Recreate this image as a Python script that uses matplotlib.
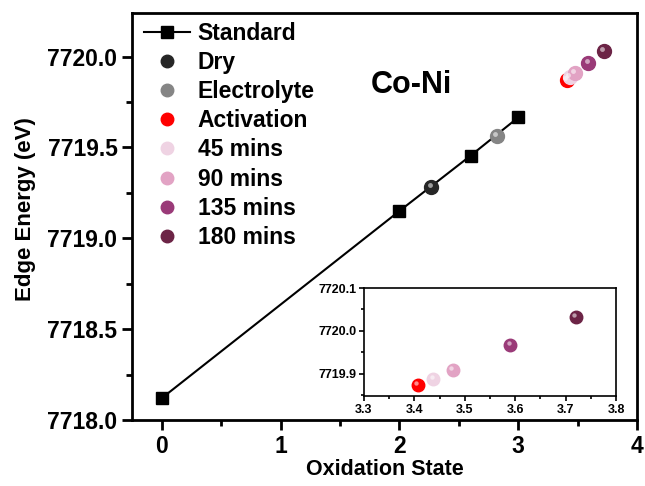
import matplotlib
matplotlib.use("Agg")
import matplotlib.pyplot as plt
from matplotlib.lines import Line2D
from matplotlib.transforms import offset_copy
from matplotlib.ticker import MultipleLocator

plt.rcParams['font.family'] = ['Liberation Sans', 'DejaVu Sans']
plt.rcParams['font.weight'] = 'bold'

std_x = [0, 2, 2.6, 3]
std_y = [7718.12, 7719.15, 7719.455, 7719.665]

labels = ["Dry", "Electrolyte", "Activation", "45 mins", "90 mins", "135 mins", "180 mins"]
px = [2.27, 2.82, 3.407, 3.437, 3.476, 3.59, 3.72]
py = [7719.284, 7719.565, 7719.873, 7719.887, 7719.908, 7719.967, 7720.033]
colors = ["#262626", "#858585", "#ff0000", "#efd3e3", "#e2a3c4", "#9a3a78", "#6c2446"]

fig = plt.figure(figsize=(6.45, 4.86), dpi=100)
ax = fig.add_axes([132/645, 1-420/486, (637-132)/645, (420-13)/486])

def sphere(a, x, y, c, ms, z=3):
    a.plot([x], [y], 'o', color=c, ms=ms, mec=c, zorder=z)
    tr = offset_copy(a.transData, fig=fig, x=-ms*0.12, y=ms*0.15, units='points')
    a.plot([x], [y], 'o', color='white', alpha=0.55, ms=ms*0.35, mew=0, transform=tr, zorder=z+0.1)

ax.plot(std_x, std_y, '-s', color='black', lw=1.5, ms=9, zorder=2)
for x, y, c in zip(px, py, colors):
    sphere(ax, x, y, c, 10)

handles = [Line2D([], [], color='black', marker='s', lw=1.5, ms=8)]
for c in colors:
    handles.append(Line2D([], [], color=c, marker='o', lw=0, ms=9))
ax.legend(handles, ["Standard"] + labels, loc='upper left', frameon=False,
          prop={'size': 16.5, 'weight': 'bold'}, handlelength=2.0, handletextpad=0.35,
          labelspacing=0.265, borderaxespad=0.0, bbox_to_anchor=(0.005, 1.0))

ax.text(2.1, 7719.845, "Co-Ni", fontsize=22, fontweight='bold', ha='center', va='center')

ax.set_xlim(-0.25, 4.0)
ax.set_ylim(7718.0, 7720.24)
ax.xaxis.set_major_locator(MultipleLocator(1))
ax.xaxis.set_minor_locator(MultipleLocator(0.5))
ax.yaxis.set_major_locator(MultipleLocator(0.5))
ax.yaxis.set_minor_locator(MultipleLocator(0.25))
ax.tick_params(which='major', direction='out', length=7, width=2, labelsize=16.5)
ax.tick_params(which='minor', direction='out', length=4, width=2)
for s in ax.spines.values():
    s.set_linewidth(2)
ax.yaxis.set_major_formatter(matplotlib.ticker.FormatStrFormatter('%.1f'))
for t in ax.get_xticklabels() + ax.get_yticklabels():
    t.set_fontweight('bold')
ax.set_xlabel("Oxidation State", fontsize=15.5, fontweight='bold', labelpad=1)
ax.set_ylabel("Edge Energy (eV)", fontsize=16, fontweight='bold')
ax.yaxis.set_label_coords(-0.19, 0.518)

# inset
ins = fig.add_axes([364/645, 1-396/486, (616-364)/645, (396-288)/486])
for x, y, c in zip(px[2:], py[2:], colors[2:]):
    sphere(ins, x, y, c, 9)
ins.set_xlim(3.3, 3.8)
ins.set_ylim(7719.848, 7720.1)
ins.xaxis.set_major_locator(MultipleLocator(0.1))
ins.xaxis.set_minor_locator(MultipleLocator(0.05))
ins.yaxis.set_major_locator(MultipleLocator(0.1))
ins.yaxis.set_minor_locator(MultipleLocator(0.05))
ins.yaxis.set_major_formatter(matplotlib.ticker.FormatStrFormatter('%.1f'))
ins.tick_params(which='major', direction='out', length=3.5, width=1.2, labelsize=9, pad=2)
ins.tick_params(which='minor', direction='out', length=2, width=1.2)
for s in ins.spines.values():
    s.set_linewidth(1.2)
for t in ins.get_xticklabels() + ins.get_yticklabels():
    t.set_fontweight('bold')

fig.savefig("out.png", dpi=100)
